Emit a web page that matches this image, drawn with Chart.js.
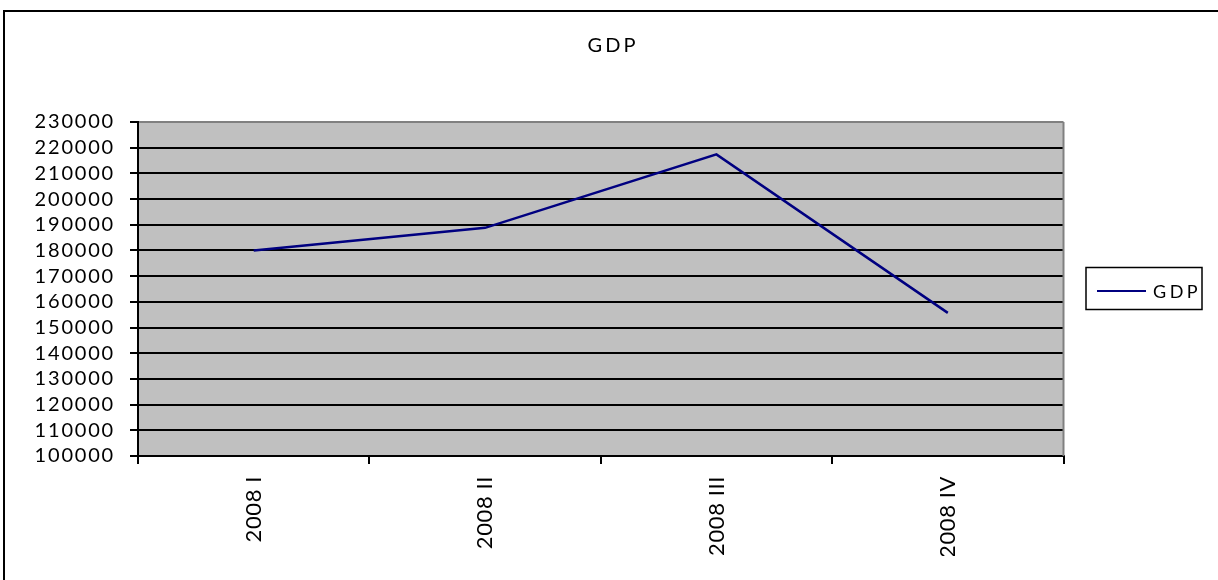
<!DOCTYPE html>
<html>
<head>
<meta charset="utf-8">
<title>GDP</title>
<script src="https://cdn.jsdelivr.net/npm/chart.js@4.4.1/dist/chart.umd.min.js"></script>
<style>
  html, body { margin: 0; padding: 0; background: #fff; overflow: hidden; }
  body { width: 1218px; height: 580px; position: relative; }
  #frame {
    position: absolute; left: 3px; top: 10px;
    width: 1300px; height: 700px;
    border: 2px solid #000; box-sizing: border-box;
  }
  #chart { position: absolute; left: 0; top: 0; }
</style>
</head>
<body>
<div id="frame"></div>
<canvas id="chart" width="1218" height="580"></canvas>
<script>
// Quarterly GDP, 2008
const quarters = ['2008 I', '2008 II', '2008 III', '2008 IV'];
const gdpValues = [180000, 188800, 217400, 155700];
const seriesName = 'GDP';
const yMin = 100000;
const yMax = 230000;
const yStep = 10000;

const FONT = 'Lato, "Open Sans", "Liberation Sans", sans-serif';
const LINE_COLOR = '#000080';

// Grey plot area, grey right border, title and boxed legend.
// Letter spacing differs between the value axis and the category labels,
// so it is switched once the datasets are drawn (x tick labels use z: 1).
const decorations = {
  id: 'decorations',
  beforeDraw(chart) {
    const { ctx, chartArea: a } = chart;
    ctx.letterSpacing = '1.8px';
    ctx.save();
    ctx.fillStyle = '#c0c0c0';
    ctx.fillRect(a.left, a.top, a.right - a.left, a.bottom - a.top);
    ctx.restore();
  },
  beforeDatasetsDraw(chart) {
    const { ctx, chartArea: a } = chart;
    ctx.save();
    ctx.strokeStyle = '#808080';
    ctx.lineWidth = 2;
    ctx.beginPath();
    ctx.moveTo(a.right, a.top);
    ctx.lineTo(a.right, a.bottom);
    ctx.stroke();
    ctx.restore();
  },
  afterDatasetsDraw(chart) {
    chart.ctx.letterSpacing = '0.6px';
  },
  afterDraw(chart) {
    const { ctx } = chart;
    const ds = chart.data.datasets[0];
    ctx.save();
    // title
    ctx.letterSpacing = '3px';
    ctx.fillStyle = '#000';
    ctx.font = '20px ' + FONT;
    ctx.textAlign = 'center';
    ctx.textBaseline = 'alphabetic';
    ctx.fillText(ds.label, 613, 52);
    // legend box
    ctx.lineWidth = 1.5;
    ctx.strokeStyle = '#000';
    ctx.strokeRect(1086, 267.5, 116, 42);
    ctx.strokeStyle = ds.borderColor;
    ctx.lineWidth = 2;
    ctx.beginPath();
    ctx.moveTo(1097, 291);
    ctx.lineTo(1146, 291);
    ctx.stroke();
    ctx.letterSpacing = '3.5px';
    ctx.font = '18px ' + FONT;
    ctx.textAlign = 'left';
    ctx.fillText(ds.label, 1153, 298);
    ctx.restore();
  }
};

new Chart(document.getElementById('chart'), {
  type: 'line',
  data: {
    labels: quarters,
    datasets: [{
      label: seriesName,
      data: gdpValues,
      borderColor: LINE_COLOR,
      backgroundColor: LINE_COLOR,
      borderWidth: 2.5,
      pointRadius: 0,
      pointHoverRadius: 0,
      tension: 0,
      fill: false
    }]
  },
  options: {
    responsive: false,
    animation: false,
    devicePixelRatio: 1,
    layout: { padding: { left: 18, right: 154.5, top: 122, bottom: 24 } },
    plugins: {
      legend: { display: false },
      title: { display: false },
      tooltip: { enabled: false }
    },
    scales: {
      x: {
        type: 'category',
        offset: true,
        grid: {
          offset: true,
          drawOnChartArea: false,
          drawTicks: true,
          tickLength: 8,
          color: '#000',
          lineWidth: 2
        },
        border: { display: true, color: '#000', width: 2 },
        ticks: {
          z: 1,
          minRotation: 90,
          maxRotation: 90,
          autoSkip: false,
          padding: 12,
          color: '#000',
          font: { family: FONT, size: 22 }
        },
        afterFit(scale) { scale.height = 100; }
      },
      y: {
        min: yMin,
        max: yMax,
        grid: {
          color: (c) => (c.tick && c.tick.value === yMax ? '#808080' : '#000'),
          tickColor: '#000',
          lineWidth: 2,
          tickLength: 8
        },
        border: { display: true, color: '#000', width: 2 },
        ticks: {
          stepSize: yStep,
          autoSkip: false,
          padding: 15,
          color: '#000',
          font: { family: FONT, size: 20 },
          callback: (v) => String(v)
        },
        afterFit(scale) { scale.width = 120; }
      }
    }
  },
  plugins: [decorations]
});
</script>
</body>
</html>
